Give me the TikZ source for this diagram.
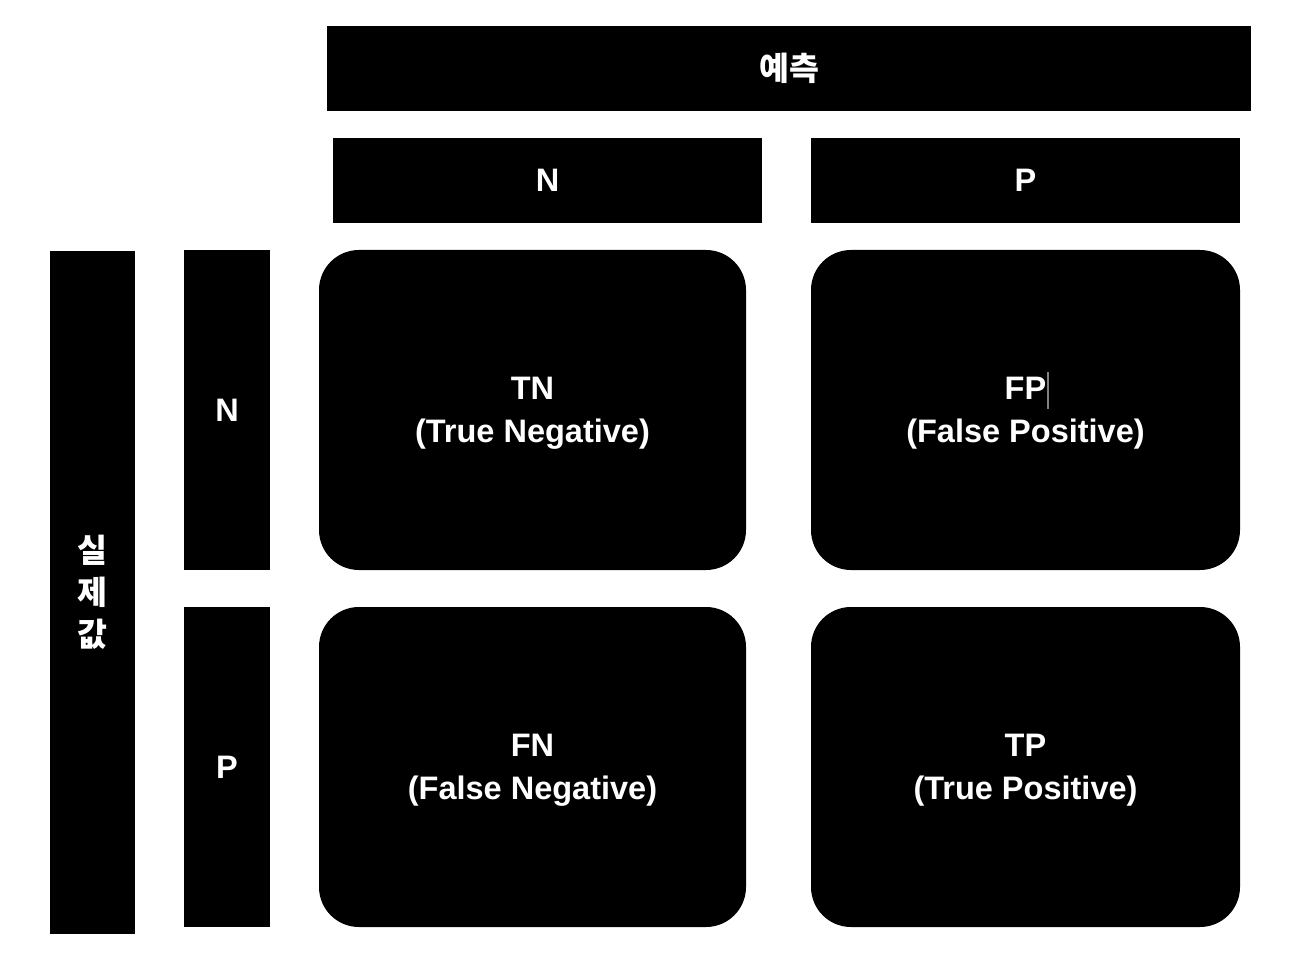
\documentclass[tikz,border=0pt]{standalone}
\usepackage{fontspec}
\setmainfont{Liberation Sans}
\newfontfamily\kofont{Noto Sans CJK KR}
\newcommand*{\pxu}{0.02cm}

\begin{document}
\begin{tikzpicture}
[
	x=0.02cm, y=-0.02cm,
	cell/.style={fill=black,text=white,inner sep=0pt,align=center,
		font=\fontsize{18.5}{24.4}\selectfont\bfseries},
	headbox/.style={cell,minimum width=#1*\pxu,minimum height=85*\pxu},
	sidebox/.style={cell,minimum width=86*\pxu,minimum height=#1*\pxu},
	matbox/.style={cell,rounded corners=0.8cm,text depth=0pt,
		minimum width=#1*\pxu,minimum height=320*\pxu}
]
	\useasboundingbox (0,0) rectangle (1292,976);

	% predicted
	\node[headbox=924,font=\fontsize{18.5}{24.4}\selectfont\bfseries\kofont] (pred) at (789,68.5) {예측};
	\node[headbox=429] (predN) at (547.5,180.5) {N};
	\node[headbox=429] (predP) at (1025.5,180.5) {P};

	% actual
	\node[sidebox=683,minimum width=85*\pxu,font=\fontsize{18.5}{23.8}\selectfont\bfseries\kofont] (act) at (92.5,592.5)
		{실\\제\\값};
	\node[sidebox=320] (actN) at (227,410) {N};
	\node[sidebox=320] (actP) at (227,767) {P};

	% matrix
	\node[matbox=427] (tn) at (532.5,410) {TN\\(True Negative)};
	\node[matbox=429] (fp) at (1025.5,410) {FP\\(False Positive)};
	\node[matbox=427] (fn) at (532.5,767) {FN\\(False Negative)};
	\node[matbox=429] (tp) at (1025.5,767) {TP\\(True Positive)};

	\draw[gray,line width=1.2pt] (1048,372) -- (1048,409);

\end{tikzpicture}
\end{document}
